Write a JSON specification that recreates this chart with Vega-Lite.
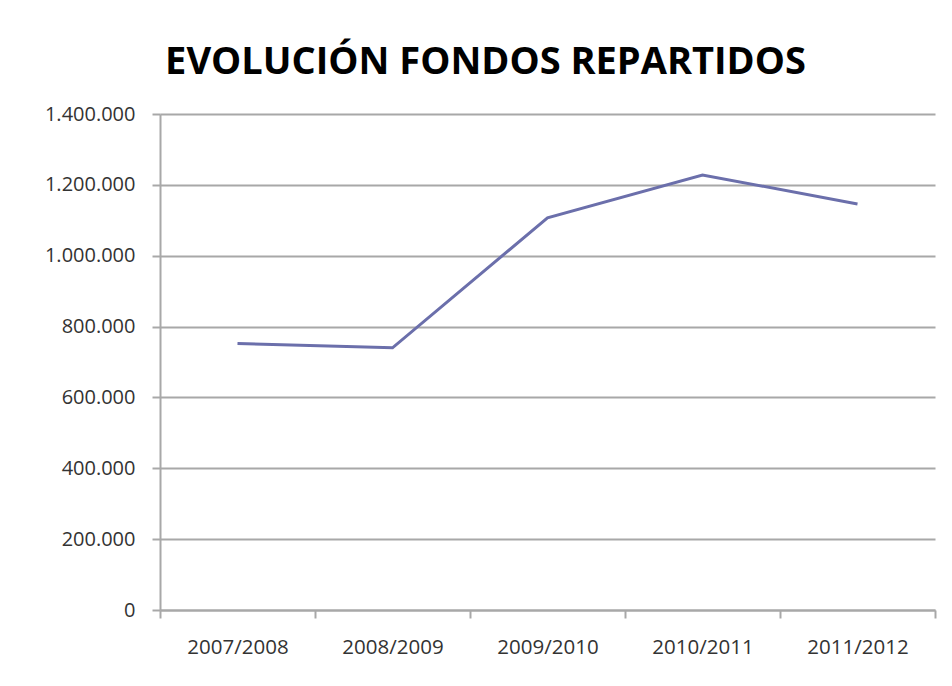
{
  "$schema": "https://vega.github.io/schema/vega-lite/v6.json",
  "autosize": "none",
  "width": 775,
  "height": 496,
  "padding": {"left": 160, "top": 114, "right": 17, "bottom": 76},
  "background": "white",
  "title": {
    "text": "EVOLUCIÓN FONDOS REPARTIDOS",
    "font": "Open Sans",
    "fontSize": 38,
    "fontWeight": "bold",
    "color": "#000000",
    "anchor": "middle",
    "dx": -62,
    "offset": 22
  },
  "data": {
    "values": [
      {"periodo": "2007/2008", "fondos": 752000},
      {"periodo": "2008/2009", "fondos": 740000},
      {"periodo": "2009/2010", "fondos": 1107000},
      {"periodo": "2010/2011", "fondos": 1228000},
      {"periodo": "2011/2012", "fondos": 1146000}
    ]
  },
  "mark": {"type": "line", "color": "#6b6fab", "strokeWidth": 3},
  "encoding": {
    "x": {
      "field": "periodo",
      "type": "ordinal",
      "sort": null,
      "scale": {"paddingInner": 0, "paddingOuter": 0},
      "axis": {
        "title": null,
        "labelAngle": 0,
        "labelFont": "Open Sans",
        "labelFontSize": 20.5,
        "labelColor": "#333333",
        "labelPadding": 19,
        "tickBand": "extent",
        "tickSize": 8,
        "tickColor": "#a8a8a8",
        "tickWidth": 2,
        "domainColor": "#a8a8a8",
        "domainWidth": 2,
        "grid": false
      }
    },
    "y": {
      "field": "fondos",
      "type": "quantitative",
      "scale": {"domain": [0, 1400000], "nice": false},
      "axis": {
        "title": null,
        "values": [0, 200000, 400000, 600000, 800000, 1000000, 1200000, 1400000],
        "labelExpr": "replace(format(datum.value, ','), regexp(',', 'g'), '.')",
        "labelFont": "Open Sans",
        "labelFontSize": 20,
        "labelColor": "#333333",
        "labelPadding": 17,
        "tickSize": 8,
        "tickColor": "#a8a8a8",
        "tickWidth": 2,
        "domainColor": "#a8a8a8",
        "domainWidth": 2,
        "grid": true,
        "gridColor": "#a8a8a8",
        "gridWidth": 2
      }
    }
  },
  "config": {"view": {"stroke": null}}
}
